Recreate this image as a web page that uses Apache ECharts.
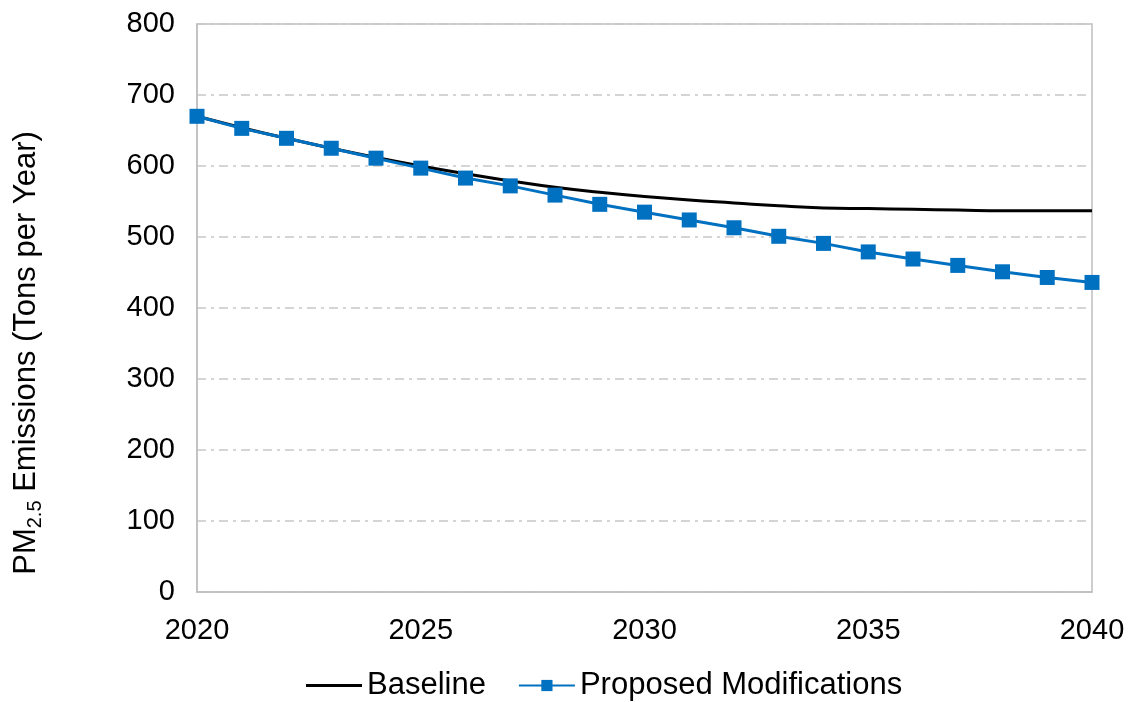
<!DOCTYPE html>
<html>
<head>
<meta charset="utf-8">
<script src="https://cdn.jsdelivr.net/npm/echarts@6/dist/echarts.min.js"></script>
<style>
  html, body { margin: 0; padding: 0; background: #fff; }
  #chart { width: 1135px; height: 702px; }
</style>
</head>
<body>
<div id="chart"></div>
<script>
var years = [2020, 2021, 2022, 2023, 2024, 2025, 2026, 2027, 2028, 2029, 2030,
             2031, 2032, 2033, 2034, 2035, 2036, 2037, 2038, 2039, 2040];
var baseline = [670, 654, 639, 625, 612, 600, 589, 579, 570, 563, 557,
                552, 548, 544, 541, 540, 539, 538, 537, 537, 537];
var proposed = [670, 653, 639, 625, 611, 597, 583, 572, 559, 546, 535,
                524, 513, 501, 491, 479, 469, 460, 451, 443, 436];
var yTicks = [0, 100, 200, 300, 400, 500, 600, 700, 800];

function pairs(vals) {
  return years.map(function (y, i) { return [y, vals[i]]; });
}

var chart = echarts.init(document.getElementById('chart'));
var font = 'Liberation Sans, Arial, sans-serif';
var fs = 29;

var option = {
  backgroundColor: '#fff',
  animation: false,
  textStyle: { fontFamily: font },
  grid: {
    left: 197, right: 43, top: 24, bottom: 110,
    show: true, borderColor: '#bfbfbf', borderWidth: 1.5
  },
  legend: {
    top: 670,
    left: 306,
    padding: 0,
    itemWidth: 56,
    itemHeight: 14,
    itemGap: 32,
    textStyle: { fontSize: 31, color: '#000', fontFamily: font },
    data: [
      { name: 'Baseline', icon: 'path://M0,0H56V3H0Z' },
      { name: 'Proposed Modifications' }
    ]
  },
  xAxis: {
    type: 'value',
    min: 2020, max: 2040, interval: 5,
    axisLine: { show: true, lineStyle: { color: '#bfbfbf', width: 1.5 } },
    axisTick: { show: false },
    splitLine: { show: false },
    axisLabel: { fontSize: fs, color: '#000', margin: 24, fontFamily: font,
      formatter: function (v) { return String(v); } }
  },
  yAxis: {
    type: 'value',
    min: yTicks[0], max: yTicks[yTicks.length - 1], interval: 100,
    name: 'PM{sub|2.5} Emissions (Tons per Year)',
    nameLocation: 'middle',
    nameGap: 152,
    nameRotate: 90,
    nameTextStyle: {
      fontSize: 31, color: '#000', fontFamily: font,
      padding: [0, 90, 0, 0],
      rich: {
        sub: { fontSize: 20, color: '#000', fontFamily: font, verticalAlign: 'bottom', padding: [17, 0, 0, 0] }
      }
    },
    axisLine: { show: true, lineStyle: { color: '#bfbfbf', width: 1.5 } },
    axisTick: { show: false },
    splitLine: { show: true, lineStyle: { color: '#c8c8c8', width: 1.5, type: [9, 5, 3, 5] } },
    axisLabel: { fontSize: fs, color: '#000', margin: 22, fontFamily: font }
  },
  series: [
    {
      name: 'Baseline',
      type: 'line',
      data: pairs(baseline),
      smooth: true,
      showSymbol: false,
      symbol: 'none',
      lineStyle: { color: '#000', width: 3 },
      itemStyle: { color: '#000' },
      z: 2
    },
    {
      name: 'Proposed Modifications',
      type: 'line',
      data: pairs(proposed),
      symbol: 'rect',
      symbolSize: 15,
      lineStyle: { color: '#0070c0', width: 3 },
      itemStyle: { color: '#0070c0' },
      z: 3
    }
  ]
};
chart.setOption(option);
</script>
</body>
</html>
